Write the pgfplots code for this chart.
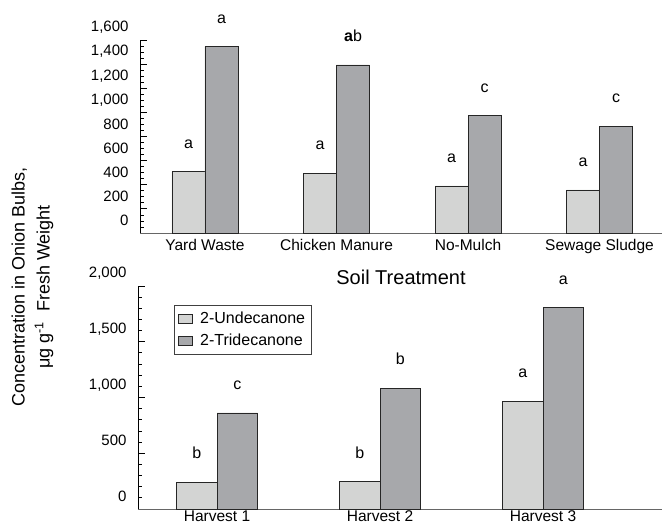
\documentclass[border=0pt]{standalone}
\usepackage{fontspec}
\setmainfont{Liberation Sans}
\usepackage{pgfplots}
\pgfplotsset{compat=1.18}
\definecolor{lightbar}{RGB}{211,212,211}
\definecolor{darkbar}{RGB}{167,168,171}
\begin{document}
\begin{tikzpicture}
\pgfplotsset{
  common/.style={
    scale only axis,
    axis x line=bottom, axis y line=left,
    axis line style={-},
    x axis line style={draw=black!60, line width=0.9bp},
    y axis line style={draw=black, line width=0.9bp},
    ybar=0pt,
    ymin=0,
    xtick style={draw=none},
    tick align=inside,
    ytick style={draw=black, line width=0.8bp},
    major tick length=7bp, minor tick length=4bp,
    /pgf/number format/assume math mode=true,
    yticklabel style={font=\fontsize{15bp}{18bp}\selectfont, xshift=-8bp, yshift=12.5bp},
    point meta=explicit symbolic,
    nodes near coords,
    nodes near coords style={font=\fontsize{16bp}{18bp}\selectfont, anchor=base, yshift=23.5bp, text=black},
    clip=false,
  },
  barA/.style={fill=lightbar, draw=black!85, line width=0.8bp},
  barB/.style={fill=darkbar, draw=black!85, line width=0.8bp},
}
% top axis
\begin{axis}[common,
  at={(140bp,293bp)}, anchor=south west,
  width=522bp, height=193bp,
  xmin=-0.494, xmax=3.475, ymax=1600,
  bar width=33bp,
  xtick={0,1,2,3},
  xticklabels={Yard Waste, Chicken Manure, No-Mulch, Sewage Sludge},
  xticklabel style={font=\fontsize{15.5bp}{18bp}\selectfont, yshift=-2.5bp},
  ytick={0,200,...,1600}, minor y tick num=3,
  xlabel={Soil Treatment},
  xlabel style={at={(axis description cs:0.5,0)}, anchor=center, yshift=-44bp, font=\fontsize{20bp}{22bp}\selectfont},
]
\addplot[barA] coordinates {(0,508)[a] (1,497)[a] (2,390)[a] (3,357)[a]};
\addplot[barB] coordinates {(0,1545)[a] (1,1393)[\textbf{a}b] (2,973)[c] (3,887)[c]};
\end{axis}
% bottom axis
\begin{axis}[common,
  at={(138bp,17bp)}, anchor=south west,
  width=524bp, height=223bp,
  xmin=-0.485, xmax=2.73, ymax=2000,
  bar width=40.5bp,
  xtick={0,1,2},
  xticklabels={Harvest 1, Harvest 2, Harvest 3},
  xticklabel style={font=\fontsize{15.5bp}{18bp}\selectfont, yshift=2bp},
  ytick={0,500,...,2000}, minor y tick num=4,
  legend style={at={(axis description cs:0,1)}, anchor=north west, xshift=36bp, yshift=-19bp,
    draw=black!75, line width=0.8bp, font=\fontsize{16bp}{18bp}\selectfont,
    row sep=4.5bp, inner xsep=4bp, inner ysep=5bp, cells={anchor=west},
    /tikz/every odd column/.append style={column sep=5bp}},
  legend image code/.code={\draw[#1, line width=0.8bp] (0bp,-4.5bp) rectangle (14bp,4.5bp);},
]
\addplot[barA] coordinates {(0,240)[b] (1,245)[b] (2,968)[a]};
\addplot[barB] coordinates {(0,861)[c] (1,1085)[b] (2,1806)[a]};
\legend{2-Undecanone, 2-Tridecanone}
\end{axis}
\node[rotate=90, align=center, font=\fontsize{18bp}{25bp}\selectfont] at (32.5bp,239bp)
  {Concentration in Onion Bulbs,\\ μg g\textsuperscript{-1}\ \ Fresh Weight};
\pgfresetboundingbox
\useasboundingbox (0,0) rectangle (662bp,526bp);
\end{tikzpicture}
\end{document}
